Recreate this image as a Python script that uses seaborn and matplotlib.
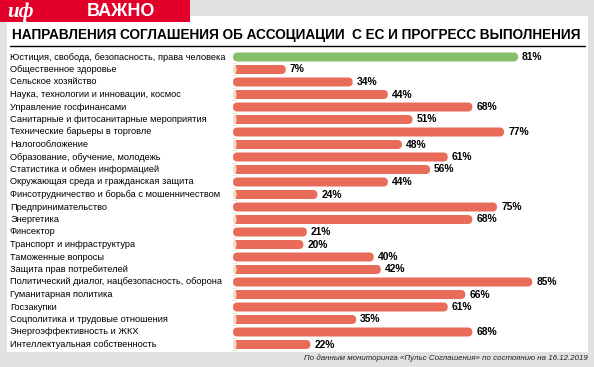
import matplotlib
matplotlib.use("Agg")
import matplotlib.pyplot as plt
import seaborn as sns
from matplotlib.patches import FancyBboxPatch, Rectangle

categories = [
    "Юстиция, свобода, безопасность, права человека",
    "Общественное здоровье",
    "Сельское хозяйство",
    "Наука, технологии и инновации, космос",
    "Управление госфинансами",
    "Санитарные и фитосанитарные мероприятия",
    "Технические барьеры в торговле",
    "Налогообложение",
    "Образование, обучение, молодежь",
    "Статистика и обмен информацией",
    "Окружающая среда и гражданская защита",
    "Финсотрудничество и борьба с мошенничеством",
    "Предпринимательство",
    "Энергетика",
    "Финсектор",
    "Транспорт и инфраструктура",
    "Таможенные вопросы",
    "Защита прав потребителей",
    "Политический диалог, нацбезопасность, оборона",
    "Гуманитарная политика",
    "Госзакупки",
    "Соцполитика и трудовые отношения",
    "Энергоэффективность и ЖКХ",
    "Интеллектуальная собственность",
]
values = [81, 7, 34, 44, 68, 51, 77, 48, 61, 56, 44, 24, 75, 68, 21, 20, 40, 42, 85, 66, 61, 35, 68, 22]
# bar lengths as drawn in the picture (the 7% bar is drawn longer than its value)
bar_values = [81, 15, 34, 44, 68, 51, 77, 48, 61, 56, 44, 24, 75, 68, 21, 20, 40, 42, 85, 66, 61, 35, 68, 22]
value_labels = [f"{v}%" for v in values]

title = "НАПРАВЛЕНИЯ СОГЛАШЕНИЯ ОБ АССОЦИАЦИИ  С ЕС И ПРОГРЕСС ВЫПОЛНЕНИЯ"
header = "ВАЖНО"
logo = "иф"
footnote = "По данным мониторинга «Пульс Соглашения» по состоянию на 16.12.2019"

GREEN = "#84bf6a"
RED = "#e96b5a"
BEIGE = "#f0e1c5"
GRAY = "#e1e1e3"
HRED = "#e2002a"

sns.set_theme(style="white")
NARROW = ["Liberation Sans Narrow", "Liberation Sans", "DejaVu Sans"]
plt.rcParams["font.family"] = NARROW

W, H = 594, 367
fig = plt.figure(figsize=(W / 100, H / 100), dpi=100, facecolor=GRAY)

# background axes in pixel coordinates
bg = fig.add_axes([0, 0, 1, 1], zorder=-1)
bg.set_xlim(0, W)
bg.set_ylim(H, 0)
bg.axis("off")
bg.add_patch(Rectangle((7, 16), 581, 335.5, facecolor="white", edgecolor="none"))
bg.add_patch(Rectangle((0, 0), 190, 22, facecolor=HRED, edgecolor="none"))
bg.text(121, 11.5, header, color="white", fontsize=13, fontweight="bold",
        ha="center", va="center", family=["Liberation Sans", "DejaVu Sans"])
bg.text(21, 12, logo, color="white", fontsize=15, fontweight="bold", style="italic",
        ha="center", va="center", family=["Liberation Serif", "DejaVu Serif"])
bg.text(296, 35, title, color="black", fontsize=9.8, fontweight="bold",
        ha="center", va="center")
bg.plot([10, 585], [45.5, 45.5], color="black", lw=1.0)
bg.text(588, 358, footnote, color="#222222", fontsize=5.7, style="italic",
        ha="right", va="center")

# main axes
scale = 3.52  # px per percent
x0px, left_px, right_px = 233, 7, 588
xmin = -(x0px - left_px) / scale
xmax = xmin + (right_px - left_px) / scale
top_px, bot_px = 50.75, 350.75
ax = fig.add_axes([left_px / W, 1 - bot_px / H, (right_px - left_px) / W, (bot_px - top_px) / H])
ax.patch.set_alpha(0)

colors = [GREEN] + [RED] * (len(categories) - 1)
sns.barplot(x=bar_values, y=categories, hue=categories, palette=colors,
            orient="h", width=0.72, legend=False, ax=ax, saturation=1)

ax.set_xlim(xmin, xmax)
ax.set_ylim(len(categories) - 0.5, -0.5)
ax.axis("off")

for i in range(len(categories)):
    if i % 2 == 1:
        ax.axhspan(i - 0.5, i + 0.5, color=BEIGE, zorder=0, lw=0)

aspect = (1 / 12.5) / (1 / scale)
for p in list(ax.patches):
    if not isinstance(p, Rectangle) or p.get_width() <= 0:
        continue
    x, y = p.get_x(), p.get_y()
    w, h = p.get_width(), p.get_height()
    fb = FancyBboxPatch((x, y), w, h,
                        boxstyle=f"round,pad=0,rounding_size={h / 2 / aspect:.3f}",
                        mutation_aspect=aspect, facecolor=p.get_facecolor(),
                        edgecolor="none", zorder=2)
    p.set_visible(False)
    ax.add_patch(fb)

for i, (cat, bv, lab) in enumerate(zip(categories, bar_values, value_labels)):
    ax.text(xmin + 3 / scale, i, cat, ha="left", va="center", fontsize=6.7,
            color="black", zorder=3)
    ax.text(bv + 4 / scale, i, lab, ha="left", va="center", fontsize=7.4,
            fontweight="bold", color="black", zorder=3)

fig.savefig("out.png", dpi=100, facecolor=GRAY)
